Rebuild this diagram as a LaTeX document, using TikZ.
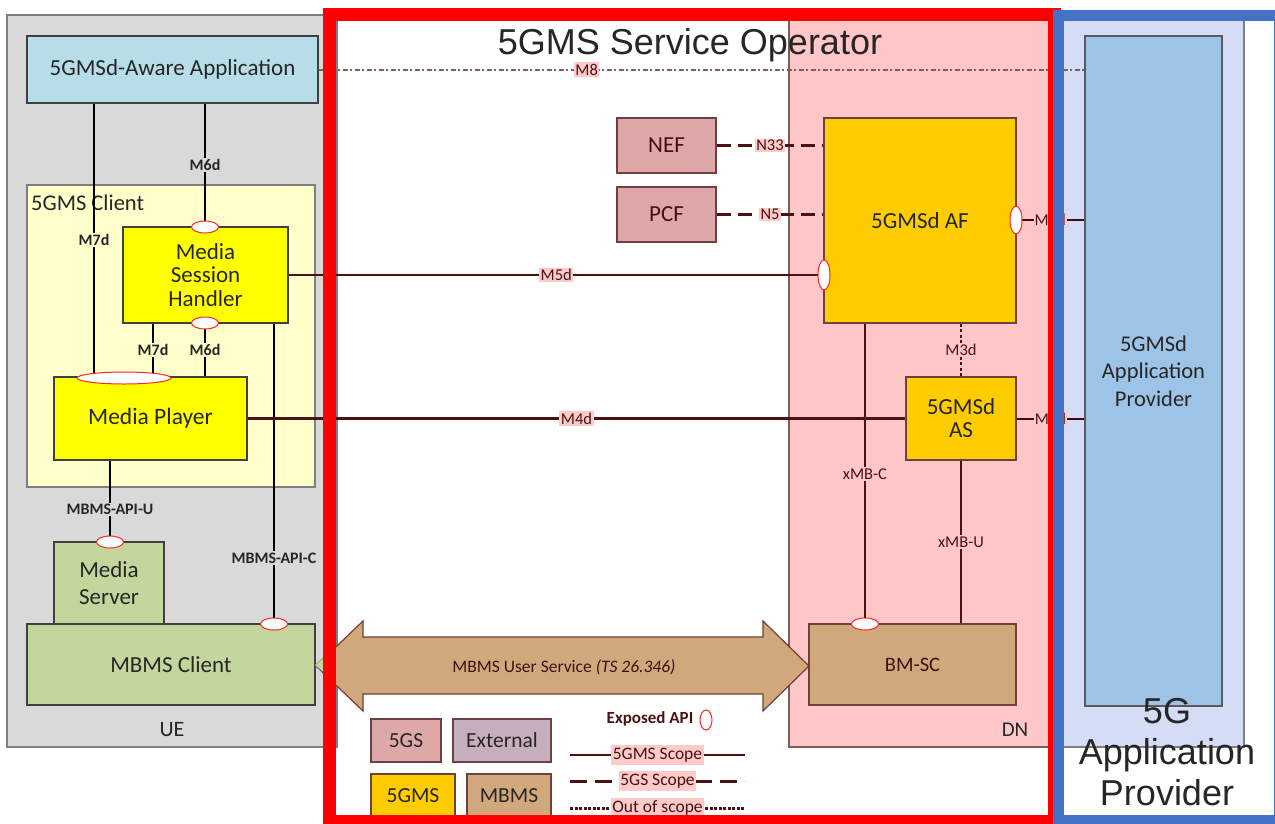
\documentclass[tikz,border=0pt]{standalone}
\usepackage{fontspec}
\setmainfont{Carlito}
\newfontfamily\arialf{Liberation Sans}
\usetikzlibrary{shapes.geometric,calc}
\definecolor{uegray}{HTML}{D9D9D9}
\definecolor{uedraw}{HTML}{7F7F7F}
\definecolor{appcol}{HTML}{B7DDE8}
\definecolor{clientyel}{HTML}{FFFFCC}
\definecolor{yel}{HTML}{FFFF00}
\definecolor{mbgreen}{HTML}{C3D69B}
\definecolor{dnpink}{HTML}{FFC7C7}
\definecolor{lblpink}{HTML}{FFCACA}
\definecolor{nefrose}{HTML}{DFA8A8}
\definecolor{extmauve}{HTML}{C5AEBE}
\definecolor{gold}{HTML}{FFCC00}
\definecolor{tan}{HTML}{D0A87B}
\definecolor{lav}{HTML}{D4DCF6}
\definecolor{apblue}{HTML}{9DC3E6}
\definecolor{opblue}{HTML}{4472C4}
\definecolor{brn}{HTML}{4A1212}
\definecolor{m8col}{HTML}{8A5C5C}
\definecolor{txt}{HTML}{262626}
\definecolor{boxline}{HTML}{404040}
\begin{document}
\begin{tikzpicture}[x=1pt,y=-1pt,
  blk/.style={draw=#1, line width=1.2pt, inner sep=0pt, align=center, text=txt, font=\fontsize{23}{24}\selectfont},
  blk/.default=boxline,
  api/.style={ellipse, draw=red!85, fill=white, inner sep=0pt, line width=1pt},
  uel/.style={line width=2pt, black},
  snl/.style={line width=2.6pt, brn},
  ulab/.style={font=\bfseries\fontsize{16}{18}\selectfont, inner sep=1.5pt, fill=#1, text=txt},
  plab/.style={font=\fontsize{16.5}{18}\selectfont, fill=lblpink, inner sep=1.5pt, text=brn},
  dlab/.style={font=\fontsize{16.5}{18}\selectfont, inner sep=1.5pt, fill=dnpink, text=brn},
  dashl/.style={line width=3pt, brn, dash pattern=on 14pt off 7pt},
  dotl/.style={line width=2.6pt, brn, dash pattern=on 3pt off 2.5pt}
]
\useasboundingbox (0,0) rectangle (1275,823);

% ---------- region backgrounds ----------
\node[draw=uedraw, fill=uegray, line width=1.2pt, inner sep=0pt, minimum width=330pt, minimum height=732pt] (ue) at (172,381) {};
\node[draw=brn!70, fill=dnpink, line width=1.2pt, inner sep=0pt, minimum width=261pt, minimum height=729pt] (dn) at (919.5,382.5) {};
\node[draw=uedraw, fill=lav, line width=1.2pt, inner sep=0pt, minimum width=186pt, minimum height=732pt] (lav) at (1151,381) {};
\node[font=\fontsize{22}{24}\selectfont, text=txt] (uelab) at (172,730) {UE};
\node[font=\fontsize{21}{24}\selectfont, text=txt] (dnlab) at (1015,730) {DN};

% ---------- UE ----------
\node[blk, fill=appcol, minimum width=291pt, minimum height=67pt] (app) at (172.5,69.5) {5GMSd-Aware Application};
\node[blk=uedraw, fill=clientyel, minimum width=288pt, minimum height=302pt] (client) at (171,336) {};
\node[anchor=west, font=\fontsize{22.5}{24}\selectfont, text=txt, inner sep=0pt] (clientlab) at (31,203) {5GMS Client};
\node[blk, fill=yel, minimum width=165pt, minimum height=96pt, font=\fontsize{23}{23.5}\selectfont] (msh) at (205.5,275) {Media\\Session\\Handler};
\node[blk, fill=yel, minimum width=193pt, minimum height=83pt, font=\fontsize{23.5}{24}\selectfont] (mp) at (150.5,418.5) {Media Player};
\node[blk, fill=mbgreen, minimum width=110pt, minimum height=82pt, font=\fontsize{23}{27}\selectfont] (ms) at (109,583) {Media\\Server};
\node[blk, fill=mbgreen, minimum width=288pt, minimum height=81pt] (mbmsc) at (171,664.5) {MBMS Client};

% ---------- DN ----------
\node[blk=brn!80, fill=nefrose, minimum width=99pt, minimum height=55pt, text=brn!90!black] (nef) at (666.5,145.5) {NEF};
\node[blk=brn!80, fill=nefrose, minimum width=99pt, minimum height=55pt, text=brn!90!black] (pcf) at (666.5,214.5) {PCF};
\node[blk=brn!80, fill=gold, minimum width=192pt, minimum height=205pt] (af) at (920,220.5) {5GMSd AF};
\node[blk=brn!80, fill=gold, minimum width=110pt, minimum height=83pt, font=\fontsize{23}{23}\selectfont] (as) at (961,418.5) {5GMSd\\AS};
\node[blk=brn!80, fill=tan, minimum width=207pt, minimum height=81pt, font=\fontsize{20.5}{22}\selectfont, text=brn!90!black] (bmsc) at (912.5,664.5) {BM-SC};
\node[blk=uedraw!70!black, fill=apblue, minimum width=137pt, minimum height=670pt, font=\fontsize{22.5}{27.5}\selectfont] (ap) at (1153.5,371) {5GMSd\\Application\\Provider};

% ---------- API end point positions ----------
\coordinate (cM6top) at (205,227);
\coordinate (cM6bot) at (205,323);
\coordinate (cMP) at (124,378);
\coordinate (cMS) at (110,542);
\coordinate (cMBC) at (274,624);
\coordinate (cAFl) at (824,275);
\coordinate (cAFr) at (1016,220);
\coordinate (cBM) at (865,624);

% ---------- connectors ----------
\draw[uel] (app.south -| 94,0) -- node[ulab=clientyel]{M7d} (mp.north -| 94,0);
\draw[uel] (app.south -| cM6top) -- node[ulab=uegray]{M6d} (cM6top);
\draw[uel] (msh.south -| 153,0) -- node[ulab=clientyel]{M7d} (mp.north -| 153,0);
\draw[uel] (cM6bot) -- node[ulab=clientyel]{M6d} (mp.north -| cM6bot);
\draw[uel] (mp.south -| cMS) -- node[ulab=uegray, pos=0.6]{MBMS-API-U} (cMS);
\draw[uel] (msh.south -| cMBC) -- node[ulab=uegray, pos=0.78]{MBMS-API-C} (cMBC);
\fill (mp.east -| cMBC) circle (2.2pt);
\draw[snl] (msh.east) -- node[plab]{M5d} (cAFl);
\draw[snl] (mp.east) -- node[plab]{M4d} (as.west);
\fill[brn] (as.west -| cBM) circle (2.2pt);
\draw[line width=2pt, m8col, dash pattern=on 5pt off 2.5pt on 2pt off 2.5pt] (app.east) -- node[plab, pos=0.35]{M8} (ap.west |- app.east);
\draw[dashl] (nef.east) -- node[plab]{N33} (af.west |- nef.east);
\draw[dashl] (pcf.east) -- node[plab]{N5} (af.west |- pcf.east);
\draw[dotl] (af.south -| as.north) -- node[dlab]{M3d} (as.north);
\draw[line width=2pt, brn] (af.south -| cBM) -- node[dlab]{xMB-C} (cBM);
\draw[line width=2pt, brn] (as.south) -- node[dlab]{xMB-U} (bmsc.north -| as.south);
\draw[line width=2pt, brn!80!black] (cAFr) -- node[pos=0.5, font=\fontsize{16.5}{18}\selectfont, text=brn, fill=dnpink, inner sep=1pt]{M1d} (ap.west |- cAFr);
\draw[line width=2pt, brn!80!black] (as.east) -- node[pos=0.5, font=\fontsize{16.5}{18}\selectfont, text=brn, fill=dnpink, inner sep=1pt]{M2d} (ap.west |- as.east);

% ---------- exposed API ellipses ----------
\node[api, minimum width=27pt, minimum height=12pt] (eM6top) at (cM6top) {};
\node[api, minimum width=27pt, minimum height=12pt] (eM6bot) at (cM6bot) {};
\node[api, minimum width=94pt, minimum height=12pt] (eMP) at (cMP) {};
\node[api, minimum width=27pt, minimum height=12pt] (eMS) at (cMS) {};
\node[api, minimum width=27pt, minimum height=12pt] (eMBC) at (cMBC) {};
\node[api, minimum width=12pt, minimum height=30pt] (eAFl) at (cAFl) {};
\node[api, minimum width=12pt, minimum height=28pt] (eAFr) at (cAFr) {};
\node[api, minimum width=27pt, minimum height=12pt] (eBM) at (cBM) {};

% ---------- MBMS User Service double arrow ----------
\draw[fill=tan, draw=brn!70!tan, line width=1.2pt]
  (316,666) -- (363,621) -- (363,637) -- (763,637) -- (763,621) -- (809,666)
  -- (763,711) -- (763,694) -- (363,694) -- (363,711) -- cycle;
\node[font=\fontsize{17.5}{19}\selectfont, text=brn!90!black] (mus) at (564,667) {MBMS User Service \textit{(TS 26.346)}};
\fill[mbgreen, draw=uedraw] (315,665) -- (324,657) -- (324,673) -- cycle;

% ---------- legend ----------
\node[blk=brn!80, fill=nefrose, minimum width=70pt, minimum height=43pt, font=\fontsize{21.5}{24}\selectfont] (l5gs) at (406,740.5) {5GS};
\node[blk=brn!80, fill=extmauve, minimum width=98pt, minimum height=43pt, font=\fontsize{21.5}{24}\selectfont] (lext) at (502,740.5) {External};
\node[blk=brn!80, fill=gold, minimum width=84pt, minimum height=44pt, font=\fontsize{21.5}{24}\selectfont] (l5gms) at (413,796) {5GMS};
\node[blk=brn!80, fill=tan, minimum width=84pt, minimum height=44pt, font=\fontsize{21.5}{24}\selectfont] (lmbms) at (509,796) {MBMS};
\node[font=\bfseries\fontsize{17}{18}\selectfont, text=brn] (lexp) at (650,719) {Exposed API};
\node[api, minimum width=12pt, minimum height=20pt] (eLeg) at (706,720) {};
\coordinate (s1a) at (570,755); \coordinate (s1b) at (745,755);
\coordinate (s2a) at (570,781); \coordinate (s2b) at (745,781);
\coordinate (s3a) at (570,808); \coordinate (s3b) at (745,808);
\draw[snl] (s1a) -- node[plab, font=\fontsize{17.5}{19}\selectfont, inner ysep=3pt]{5GMS Scope} (s1b);
\draw[dashl, dash pattern=on 17pt off 8pt] (s2a) -- node[plab, font=\fontsize{17.5}{19}\selectfont, inner ysep=3pt]{5GS Scope} (s2b);
\draw[dotl, line width=3pt, dash pattern=on 3pt off 1.5pt] (s3a) -- node[plab, font=\fontsize{17.5}{19}\selectfont, inner ysep=3pt]{Out of scope} (s3b);

% ---------- domain borders ----------
\draw[red, line width=13pt] (329.5,14.5) rectangle (1054,821.5);
\draw[opblue, line width=11pt] (1058.5,15) rectangle (1279,820);

% ---------- titles ----------
\node[font=\arialf\fontsize{36}{40}\selectfont, text=txt] (title) at (690,45) {5GMS Service Operator};
\node[font=\arialf\fontsize{36}{41}\selectfont, text=txt, align=center] (aptitle) at (1167,752) {5G\\Application\\Provider};
\end{tikzpicture}
\end{document}
